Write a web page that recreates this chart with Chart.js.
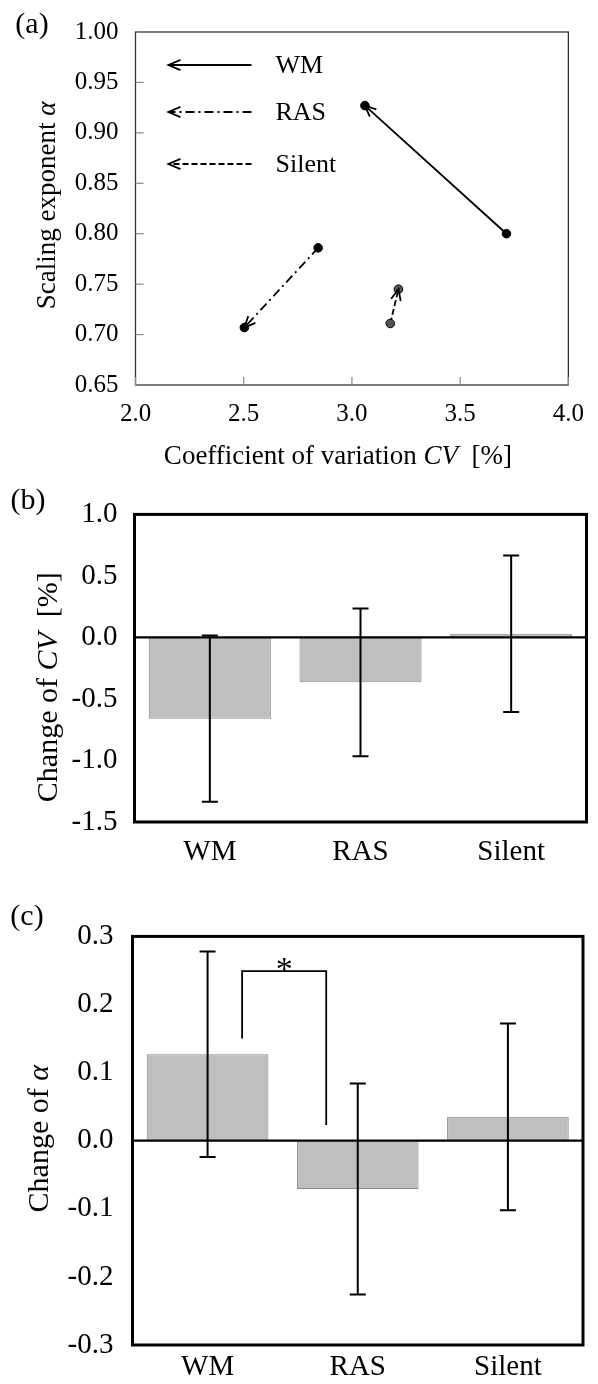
<!DOCTYPE html>
<html><head><meta charset="utf-8">
<script src="https://cdn.jsdelivr.net/npm/chart.js@4.4.1/dist/chart.umd.min.js"></script>
<style>
html,body{margin:0;padding:0;background:#fff;}
body{width:598px;height:1384px;position:relative;overflow:hidden;}
canvas{position:absolute;left:0;}
</style></head><body>
<canvas id="ca" width="598" height="480" style="top:0"></canvas>
<canvas id="cb" width="598" height="420" style="top:480px"></canvas>
<canvas id="cc" width="598" height="484" style="top:900px"></canvas>
<script>
const groups = ['WM', 'RAS', 'Silent'];
// panel (a): before -> after
const cvBefore = [3.714, 2.844, 3.177];
const alphaBefore = [0.800, 0.786, 0.711];
const cvAfter = [3.060, 2.503, 3.215];
const alphaAfter = [0.927, 0.707, 0.745];
const cvTicks = [2.0, 2.5, 3.0, 3.5, 4.0];
const alphaTicks = [0.65, 0.70, 0.75, 0.80, 0.85, 0.90, 0.95, 1.00];
// panel (b)
const cvChange = [-0.66, -0.365, 0.03];
const cvChangeSD = [0.675, 0.60, 0.635];
const cvChangeTicks = [-1.5, -1.0, -0.5, 0.0, 0.5, 1.0];
// panel (c)
const alphaChange = [0.127, -0.071, 0.035];
const alphaChangeSD = [0.151, 0.155, 0.137];
const alphaChangeTicks = [-0.3, -0.2, -0.1, 0.0, 0.1, 0.2, 0.3];
// significance bracket WM vs RAS (category index units / value units)
const sigX = [0.23, 0.79];
const sigLevels = [0.150, 0.249, 0.023];
const sigMarkY = 0.263;
const sigMark = '*';

const FF = '"Liberation Serif", "Times New Roman", serif';
const dashes = [[], [9, 4, 2, 4], [6, 3]];
const pointFill = ['#000', '#000', '#555'];

function mixed(ctx, parts, size, x, y, rot) {
  ctx.save();
  ctx.translate(x, y); ctx.rotate(rot || 0);
  let w = 0;
  parts.forEach(p => { ctx.font = (p[1] ? 'italic ' : '') + size + 'px ' + FF; w += ctx.measureText(p[0]).width; });
  let cx = -w / 2;
  ctx.textBaseline = 'middle'; ctx.textAlign = 'left'; ctx.fillStyle = '#000';
  parts.forEach(p => { ctx.font = (p[1] ? 'italic ' : '') + size + 'px ' + FF; ctx.fillText(p[0], cx, 0); cx += ctx.measureText(p[0]).width; });
  ctx.restore();
}
function arrowHead(ctx, x0, y0, x1, y1, len, ang) {
  const a = Math.atan2(y1 - y0, x1 - x0);
  ctx.beginPath();
  ctx.moveTo(x1 - len * Math.cos(a - ang), y1 - len * Math.sin(a - ang));
  ctx.lineTo(x1, y1);
  ctx.lineTo(x1 - len * Math.cos(a + ang), y1 - len * Math.sin(a + ang));
  ctx.stroke();
}
function setTicks(arr) { return s => { s.ticks = arr.map(v => ({ value: v })); }; }

// ---------- Panel (a)
const plugA = {
  id: 'plugA',
  afterDraw(chart) {
    const { ctx, chartArea: ca, scales } = chart;
    ctx.save();
    // frame
    ctx.strokeStyle = '#333'; ctx.lineWidth = 1.3;
    ctx.strokeRect(ca.left, ca.top, ca.right - ca.left, ca.bottom - ca.top);
    // inward ticks
    ctx.strokeStyle = '#888'; ctx.lineWidth = 1.2;
    scales.y.ticks.forEach(t => { const y = scales.y.getPixelForValue(t.value); ctx.beginPath(); ctx.moveTo(ca.left, y); ctx.lineTo(ca.left + 8, y); ctx.stroke(); });
    scales.x.ticks.forEach(t => { const x = scales.x.getPixelForValue(t.value); ctx.beginPath(); ctx.moveTo(x, ca.bottom); ctx.lineTo(x, ca.bottom - 8); ctx.stroke(); });
    // arrowheads
    ctx.strokeStyle = '#000'; ctx.lineWidth = 1.8; ctx.setLineDash([]);
    chart.data.datasets.forEach((d, i) => {
      const m = chart.getDatasetMeta(i).data;
      arrowHead(ctx, m[0].x, m[0].y, m[1].x, m[1].y, 12, 0.42);
    });
    // legend
    const rows = [33, 80, 132];
    groups.forEach((g, i) => {
      const y = ca.top + rows[i];
      const x0 = ca.left + 33, x1 = ca.left + 116;
      ctx.setLineDash(dashes[i]); ctx.lineWidth = 1.8;
      ctx.beginPath(); ctx.moveTo(x1, y); ctx.lineTo(x0, y); ctx.stroke();
      ctx.setLineDash([]);
      arrowHead(ctx, x1, y, x0, y, 13, 0.4);
      ctx.fillStyle = '#000'; ctx.font = '26px ' + FF; ctx.textBaseline = 'middle'; ctx.textAlign = 'left';
      ctx.fillText(g, ca.left + 140, y + 1);
    });
    // titles
    mixed(ctx, [['Coefficient of variation ', 0], ['CV', 1], ['  [%]', 0]], 27, (ca.left + ca.right) / 2 - 14, ca.bottom + 72, 0);
    mixed(ctx, [['Scaling exponent ', 0], ['\u03b1', 1]], 27, 48, (ca.top + ca.bottom) / 2 - 3, -Math.PI / 2);
    ctx.fillStyle = '#000'; ctx.font = '30px ' + FF; ctx.textAlign = 'center'; ctx.textBaseline = 'middle';
    ctx.fillText('(a)', 32, 25);
    ctx.restore();
  }
};
new Chart(document.getElementById('ca'), {
  type: 'scatter',
  data: {
    datasets: groups.map((g, i) => ({
      label: g,
      data: [{ x: cvBefore[i], y: alphaBefore[i] }, { x: cvAfter[i], y: alphaAfter[i] }],
      showLine: true, borderColor: '#000', borderWidth: 1.8, borderDash: dashes[i],
      pointRadius: 4.3, pointBackgroundColor: pointFill[i], pointBorderColor: '#000', pointBorderWidth: 1
    }))
  },
  options: {
    responsive: false, animation: false, devicePixelRatio: 1,
    layout: { padding: { top: 21, right: 19, left: 0, bottom: 0 } },
    plugins: { legend: { display: false }, tooltip: { enabled: false } },
    scales: {
      x: {
        type: 'linear', min: 2, max: 4, afterBuildTicks: setTicks(cvTicks),
        ticks: { callback: v => v.toFixed(1), font: { family: FF, size: 25 }, color: '#000', padding: 14, maxRotation: 0 },
        grid: { display: false, drawTicks: false }, border: { display: false },
        afterFit: s => { s.height = 95; }
      },
      y: {
        min: 0.65, max: 1.0, afterBuildTicks: setTicks(alphaTicks),
        ticks: { callback: v => v.toFixed(2), font: { family: FF, size: 25 }, color: '#000', padding: 17 },
        grid: { display: false, drawTicks: false }, border: { display: false },
        afterFit: s => { s.width = 135.5; }
      }
    }
  },
  plugins: [plugA]
});

// ---------- Bar panels
function barPlugin(id, sd, label, ytitle, titleX, titleDY, sig) {
  return {
    id: id,
    afterDatasetsDraw(chart) {
      const { ctx, chartArea: ca, scales } = chart;
      const meta = chart.getDatasetMeta(0);
      const vals = chart.data.datasets[0].data;
      ctx.save();
      ctx.strokeStyle = '#000'; ctx.lineWidth = 2;
      meta.data.forEach((b, i) => {
        const yt = scales.y.getPixelForValue(vals[i] + sd[i]);
        const yb = scales.y.getPixelForValue(vals[i] - sd[i]);
        ctx.beginPath();
        ctx.moveTo(b.x, yt); ctx.lineTo(b.x, yb);
        ctx.moveTo(b.x - 8, yt); ctx.lineTo(b.x + 8, yt);
        ctx.moveTo(b.x - 8, yb); ctx.lineTo(b.x + 8, yb);
        ctx.stroke();
      });
      // zero line
      const y0 = scales.y.getPixelForValue(0);
      ctx.lineWidth = 2.2; ctx.beginPath(); ctx.moveTo(ca.left, y0); ctx.lineTo(ca.right, y0); ctx.stroke();
      if (sig) {
        const xl = scales.x.getPixelForValue(sig.x[0]), xr = scales.x.getPixelForValue(sig.x[1]);
        ctx.lineWidth = 1.8; ctx.beginPath();
        ctx.moveTo(xl, scales.y.getPixelForValue(sig.levels[0]));
        ctx.lineTo(xl, scales.y.getPixelForValue(sig.levels[1]));
        ctx.lineTo(xr, scales.y.getPixelForValue(sig.levels[1]));
        ctx.lineTo(xr, scales.y.getPixelForValue(sig.levels[2]));
        ctx.stroke();
        ctx.fillStyle = '#000'; ctx.font = '34px ' + FF; ctx.textAlign = 'center'; ctx.textBaseline = 'alphabetic';
        ctx.fillText(sig.mark, (xl + xr) / 2, scales.y.getPixelForValue(sig.markY) + 18);
      }
      // frame
      ctx.lineWidth = 3;
      ctx.strokeRect(ca.left, ca.top, ca.right - ca.left, ca.bottom - ca.top);
      mixed(ctx, ytitle, 30, titleX, (ca.top + ca.bottom) / 2 + titleDY, -Math.PI / 2);
      ctx.fillStyle = '#000'; ctx.font = '30px ' + FF; ctx.textAlign = 'center'; ctx.textBaseline = 'middle';
      ctx.fillText(label[0], label[1], label[2]);
      ctx.restore();
    }
  };
}
function barChart(el, vals, ticks, lay, ywidth, xheight, xpad, ypad, plug) {
  return new Chart(document.getElementById(el), {
    type: 'bar',
    data: { labels: groups, datasets: [{ data: vals, backgroundColor: '#bfbfbf', borderColor: '#8a8a8a', borderWidth: 1, barPercentage: 0.81, categoryPercentage: 1.0 }] },
    options: {
      responsive: false, animation: false, devicePixelRatio: 1,
      layout: { padding: lay },
      plugins: { legend: { display: false }, tooltip: { enabled: false } },
      scales: {
        x: {
          ticks: { font: { family: FF, size: 29 }, color: '#000', padding: xpad, maxRotation: 0 },
          grid: { display: false, drawTicks: false }, border: { display: false },
          afterFit: s => { s.height = xheight; }
        },
        y: {
          min: ticks[0], max: ticks[ticks.length - 1], afterBuildTicks: setTicks(ticks),
          ticks: { callback: v => v.toFixed(1), font: { family: FF, size: 29 }, color: '#000', padding: ypad },
          grid: { display: false, drawTicks: false }, border: { display: false },
          afterFit: s => { s.width = ywidth; }
        }
      }
    },
    plugins: [plug]
  });
}
barChart('cb', cvChange, cvChangeTicks, { top: 31, right: 11.5, left: 0, bottom: 0 }, 134.5, 78, 13, 17,
  barPlugin('pb', cvChangeSD, ['(b)', 28, 21], [['Change of ', 0], ['CV', 1], ['  [%]', 0]], 49, 19, null));
barChart('cc', alphaChange, alphaChangeTicks, { top: 22.3, right: 15, left: 0, bottom: 0 }, 132.5, 39, 5, 19,
  barPlugin('pc', alphaChangeSD, ['(c)', 27, 17], [['Change of ', 0], ['\u03b1', 1]], 40, -2,
    { x: sigX, levels: sigLevels, mark: sigMark, markY: sigMarkY }));
</script>
</body></html>
